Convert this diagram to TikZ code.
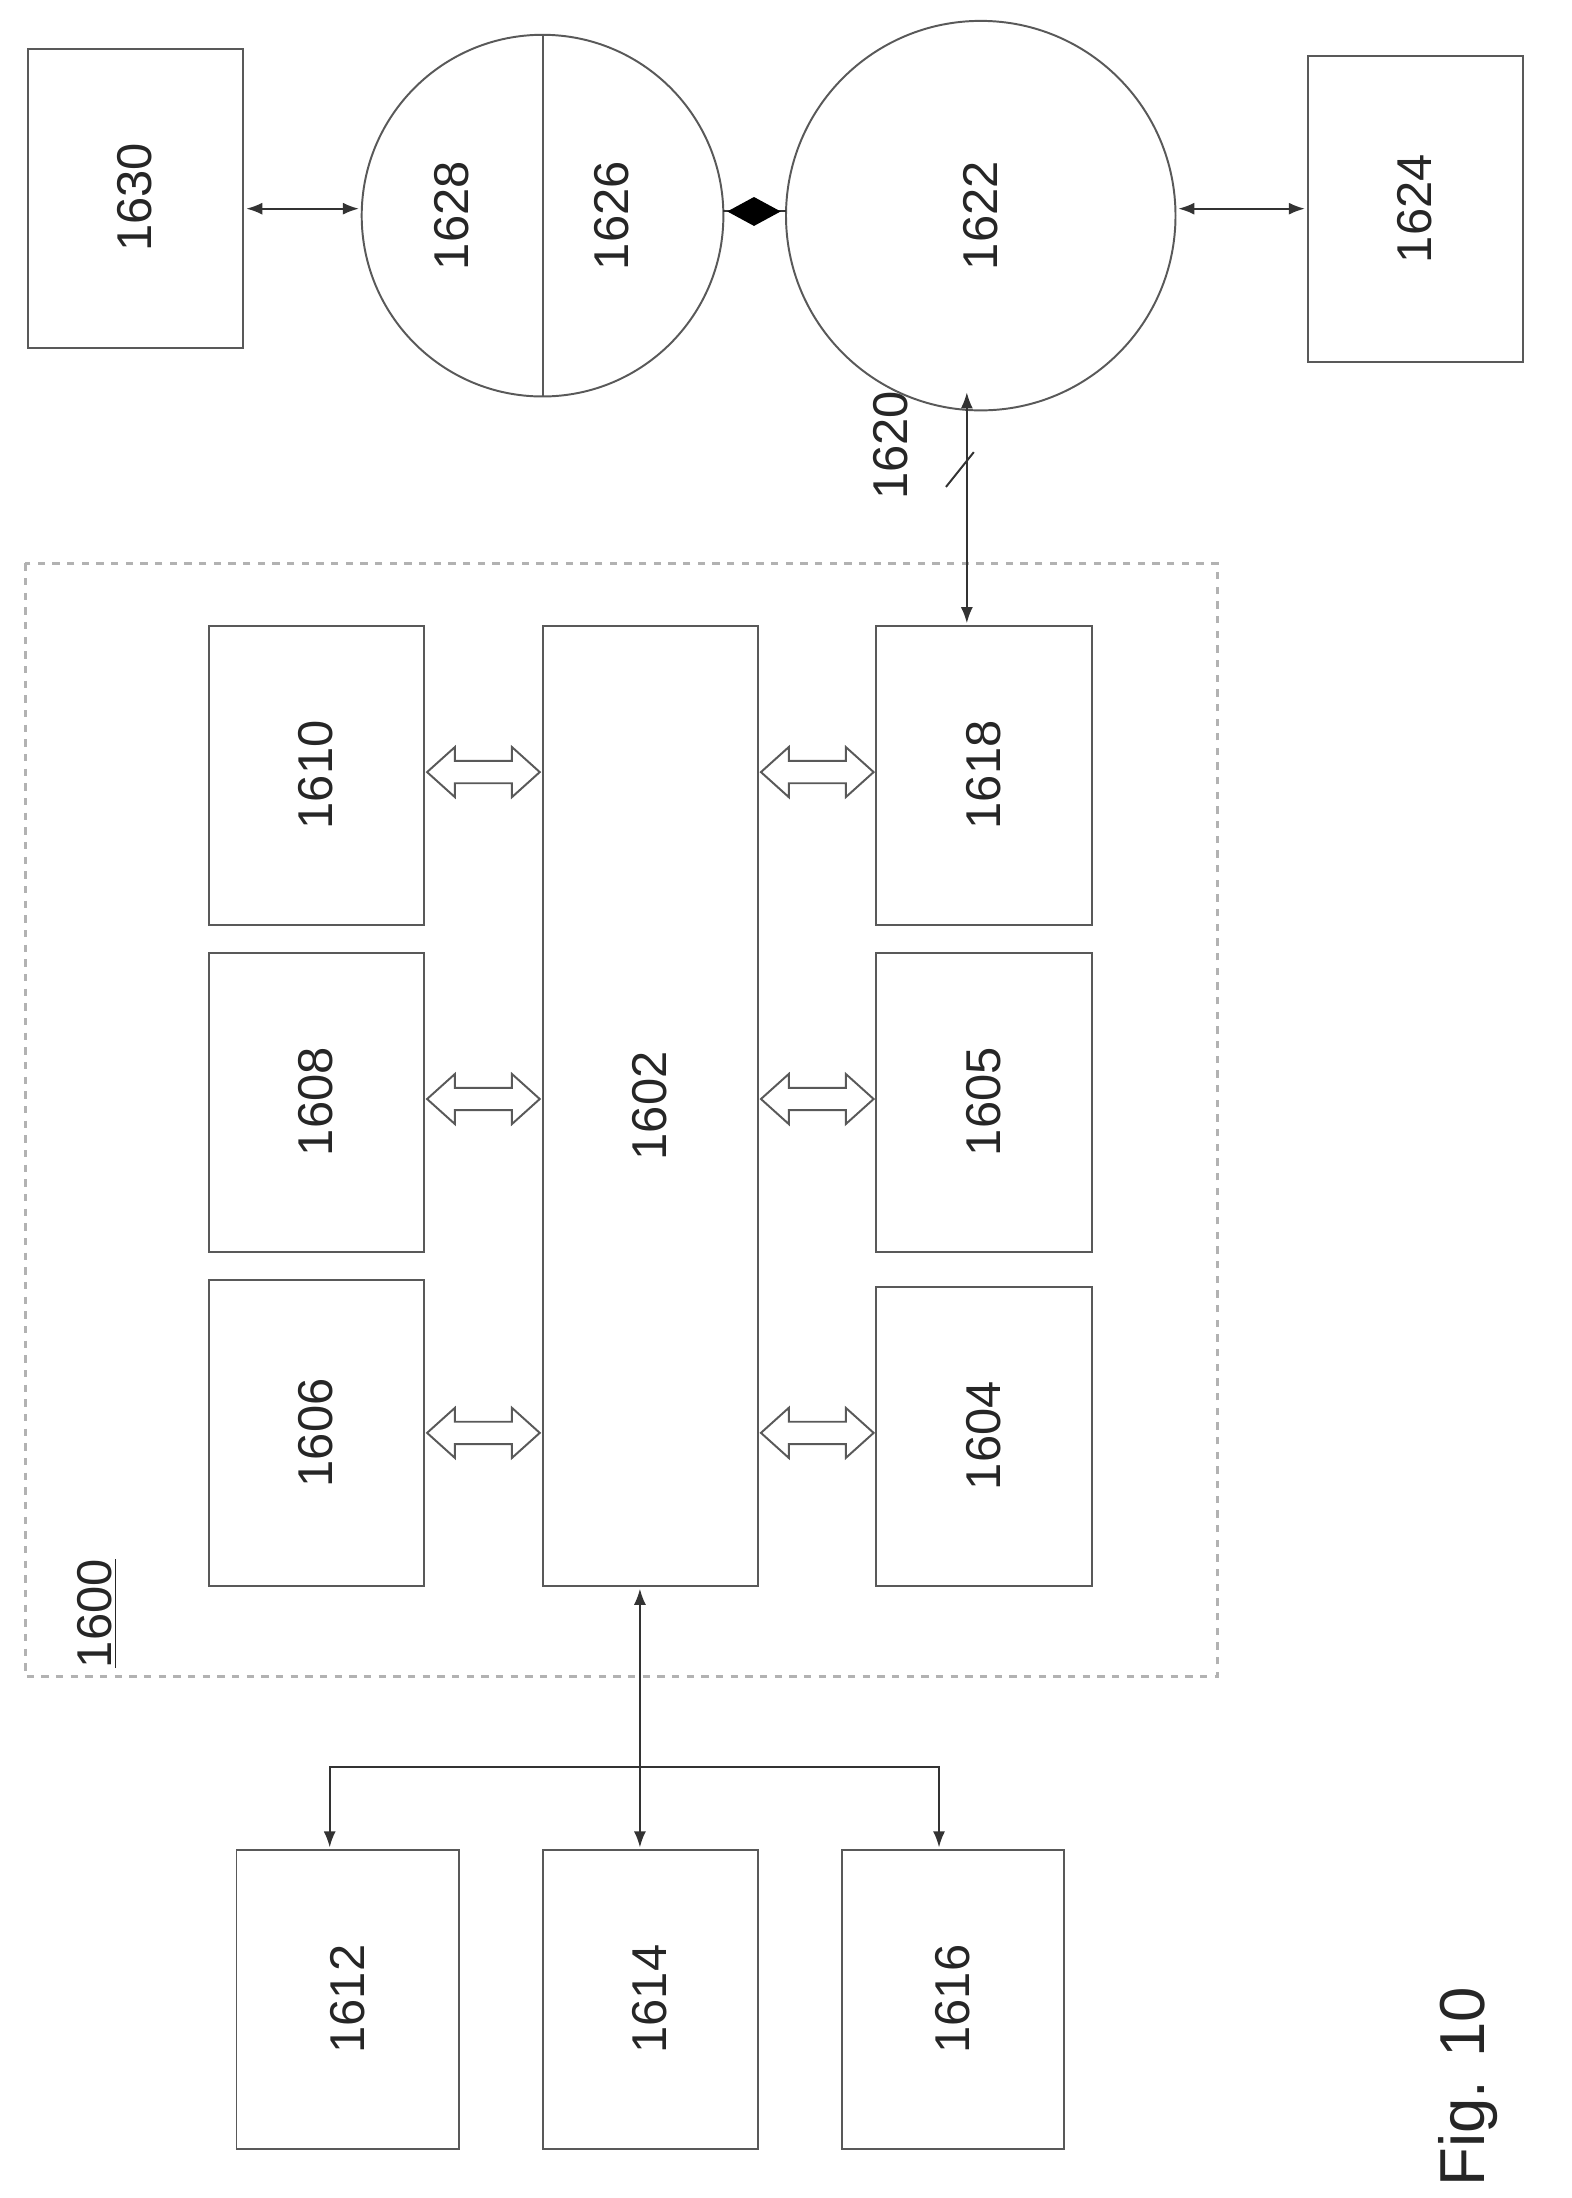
\documentclass[tikz,border=0pt]{standalone}
\usepackage{fontspec}
\setmainfont{Liberation Sans}
\usetikzlibrary{arrows.meta,shapes.geometric}
\newcommand{\fatarrow}[3]{% from x #1 to x #2 at y #3
  \draw[thick,gray!70!black,fill=white] (#1,#3) -- ++(20,-18) -- ++(0,10) -- (#2-20,#3-8) -- ++(0,-10)
    -- (#2,#3) -- (#2-20,#3+18) -- ++(0,-10) -- (#1+20,#3+8) -- ++(0,10) -- cycle;}
\begin{document}
\begin{tikzpicture}[x=0.02cm,y=-0.02cm,
  blk/.style={draw,thick,gray!70!black},
  lbl/.style={rotate=90,font=\fontsize{20}{20}\selectfont,text=gray!30!black},
  link/.style={thick,gray!40!black,{Latex}-{Latex}}]
\useasboundingbox (0,0) rectangle (1130,1580);
\draw[very thick,dashed,gray!60] (18,405) rectangle (875,1205);
\node[lbl] at (70,1160) {\underline{1600}};
% inner blocks
\draw[blk] (390,450) rectangle (545,1140); \node[lbl] (n1602) at (467,795) {1602};
\draw[blk] (150,920) rectangle (305,1140); \node[lbl] at (227,1030) {1606};
\draw[blk] (150,685) rectangle (305,900);  \node[lbl] at (227,792) {1608};
\draw[blk] (150,450) rectangle (305,665);  \node[lbl] at (227,557) {1610};
\draw[blk] (630,925) rectangle (785,1140); \node[lbl] at (707,1032) {1604};
\draw[blk] (630,685) rectangle (785,900);  \node[lbl] at (707,792) {1605};
\draw[blk] (630,450) rectangle (785,665);  \node[lbl] at (707,557) {1618};
\foreach \y in {1030,790,555} {
  \fatarrow{307}{388}{\y}
  \fatarrow{547}{628}{\y}
}
% external blocks
\draw[blk] (170,1330) rectangle (330,1545); \node[lbl] at (250,1437) {1612};
\draw[blk] (390,1330) rectangle (545,1545); \node[lbl] at (467,1437) {1614};
\draw[blk] (605,1330) rectangle (765,1545); \node[lbl] at (685,1437) {1616};
\draw[link] (460,1142) -- (460,1328);
\draw[thick,gray!40!black,-{Latex}] (460,1270) -| (237,1328);
\draw[thick,gray!40!black,-{Latex}] (460,1270) -| (675,1328);
% network side
\draw[blk] (20,35) rectangle (175,250);   \node[lbl] at (97,142) {1630};
\draw[blk] (940,40) rectangle (1095,260); \node[lbl] at (1017,150) {1624};
\draw[blk] (390,155) circle (130);
\draw[blk] (390,25) -- (390,285);
\node[lbl] at (325,155) {1628};
\node[lbl] at (440,155) {1626};
\draw[blk] (705,155) circle (140); \node[lbl] at (705,155) {1622};
\draw[thick,gray!40!black] (520,152) -- (565,152);
\node[diamond,fill=black,inner sep=0pt,minimum width=22pt,minimum height=12pt] at (542,152) {};
\draw[link] (177,150) -- (258,150);
\draw[link] (847,150) -- (938,150);
\draw[link] (695,282) -- (695,448);
\draw[thick,gray!40!black] (680,350) -- (700,325);
\node[lbl] at (640,320) {1620};
\node[lbl,font=\fontsize{26}{26}\selectfont] at (1055,1500) {Fig. 10};
\end{tikzpicture}
\end{document}
